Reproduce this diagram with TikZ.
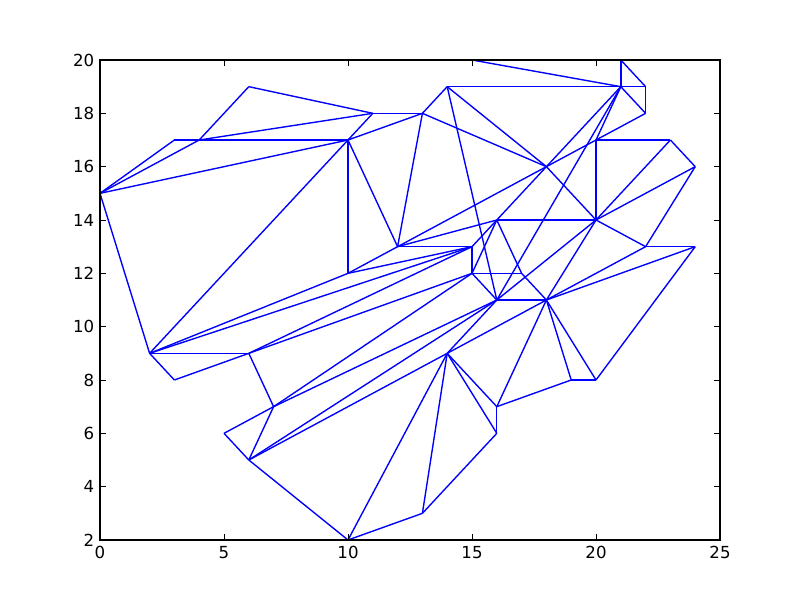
\documentclass[tikz,border=0pt]{standalone}
\usepackage{fontspec}
\setmainfont{DejaVu Sans}
\usetikzlibrary{positioning}
\tikzstyle{plotArea} = [x = 0.248in, y = 0.26667in, shift = {(1in, 0.06667in)}]
\tikzstyle{segmentLine} = [color=blue, line width=1pt, line join=round]
\tikzstyle{axisFrame} = [color=black, line width=1pt]
\tikzstyle{tickLine} = [color=black, line width=0.5pt]
\tikzstyle{tickLabel} = [font=\fontsize{12}{14}\selectfont, inner sep=0pt]
\newcommand{\tickLen}{4pt}
\newcommand{\dataPoint}[2]{\coordinate (p#1-#2) at (#1,#2);}
\newcommand{\segment}[4]{\draw [segmentLine] (p#1-#2) -- (p#3-#4);}
\newcommand{\xTick}[1]{
  \draw [tickLine] (#1,2) -- ++(0,\tickLen);
  \draw [tickLine] (#1,20) -- ++(0,-\tickLen);
  \node [tickLabel, anchor=north, yshift=-4.5pt] (xl#1) at (#1,2) {#1};
}
\newcommand{\yTick}[1]{
  \draw [tickLine] (0,#1) -- ++(\tickLen,0);
  \draw [tickLine] (25,#1) -- ++(-\tickLen,0);
  \node [tickLabel, anchor=east, xshift=-4pt] (yl#1) at (0,#1) {#1};
}

\begin{document}
\begin{tikzpicture}
  \useasboundingbox (0,0) rectangle (8in,6in);
  \begin{scope}[plotArea]
    \foreach \px/\py in {0/15,3/17,4/17,6/19,10/17,11/18,13/18,14/19,15/20,21/20,
      21/19,22/19,22/18,20/17,18/16,23/17,24/16,20/14,16/14,12/13,15/13,10/12,
      15/12,17/12,16/11,18/11,22/13,24/13,2/9,6/9,3/8,7/7,5/6,6/5,14/9,10/2,
      13/3,16/6,16/7,19/8,20/8} {
      \dataPoint{\px}{\py}
    }

    % upper left fan
    \segment{0}{15}{3}{17}
    \segment{0}{15}{4}{17}
    \segment{0}{15}{10}{17}
    \segment{0}{15}{2}{9}
    \segment{3}{17}{10}{17}
    \segment{4}{17}{6}{19}
    \segment{4}{17}{11}{18}
    \segment{6}{19}{11}{18}
    \segment{11}{18}{13}{18}
    \segment{10}{17}{11}{18}
    \segment{10}{17}{13}{18}
    \segment{10}{17}{10}{12}
    \segment{10}{17}{12}{13}
    \segment{10}{17}{2}{9}
    \segment{13}{18}{14}{19}
    \segment{13}{18}{12}{13}
    \segment{13}{18}{18}{16}

    % top right
    \segment{14}{19}{21}{19}
    \segment{14}{19}{18}{16}
    \segment{14}{19}{16}{11}
    \segment{15}{20}{21}{19}
    \segment{21}{20}{21}{19}
    \segment{21}{20}{22}{19}
    \segment{21}{19}{22}{19}
    \segment{22}{19}{22}{18}
    \segment{21}{19}{22}{18}
    \segment{21}{19}{18}{16}
    \segment{21}{19}{16}{11}
    \segment{21}{19}{20}{17}
    \segment{22}{18}{20}{17}
    \segment{20}{17}{18}{16}
    \segment{20}{17}{23}{17}
    \segment{20}{17}{20}{14}
    \segment{23}{17}{24}{16}
    \segment{23}{17}{20}{14}
    \segment{24}{16}{20}{14}
    \segment{24}{16}{22}{13}
    \segment{20}{14}{22}{13}
    \segment{22}{13}{24}{13}
    \segment{22}{13}{18}{11}
    \segment{24}{13}{18}{11}
    \segment{24}{13}{20}{8}

    % middle
    \segment{18}{16}{20}{14}
    \segment{16}{14}{20}{14}
    \segment{20}{14}{18}{11}
    \segment{20}{14}{16}{11}
    \segment{18}{16}{16}{14}
    \segment{18}{16}{12}{13}
    \segment{12}{13}{16}{14}
    \segment{12}{13}{15}{13}
    \segment{12}{13}{10}{12}
    \segment{10}{12}{15}{13}
    \segment{16}{14}{15}{13}
    \segment{16}{14}{15}{12}
    \segment{16}{14}{17}{12}
    \segment{15}{13}{15}{12}
    \segment{15}{12}{17}{12}
    \segment{15}{12}{16}{11}
    \segment{17}{12}{18}{11}
    \segment{16}{11}{18}{11}

    % lower left
    \segment{2}{9}{10}{12}
    \segment{2}{9}{15}{13}
    \segment{2}{9}{6}{9}
    \segment{2}{9}{3}{8}
    \segment{6}{9}{3}{8}
    \segment{6}{9}{7}{7}
    \segment{6}{9}{15}{13}
    \segment{6}{9}{15}{12}
    \segment{7}{7}{5}{6}
    \segment{7}{7}{6}{5}
    \segment{7}{7}{15}{12}
    \segment{7}{7}{16}{11}
    \segment{5}{6}{6}{5}
    \segment{6}{5}{10}{2}
    \segment{6}{5}{16}{11}
    \segment{6}{5}{14}{9}

    % bottom
    \segment{14}{9}{10}{2}
    \segment{14}{9}{13}{3}
    \segment{14}{9}{16}{6}
    \segment{14}{9}{16}{7}
    \segment{14}{9}{16}{11}
    \segment{14}{9}{18}{11}
    \segment{10}{2}{13}{3}
    \segment{13}{3}{16}{6}
    \segment{16}{6}{16}{7}
    \segment{16}{7}{18}{11}
    \segment{16}{7}{19}{8}
    \segment{19}{8}{18}{11}
    \segment{19}{8}{20}{8}
    \segment{20}{8}{18}{11}

    % axes
    \foreach \tx in {0,5,...,25} {
      \xTick{\tx}
    }
    \foreach \ty in {2,4,...,20} {
      \yTick{\ty}
    }
    \draw [axisFrame] (0,2) rectangle (25,20);
  \end{scope}
\end{tikzpicture}
\end{document}
